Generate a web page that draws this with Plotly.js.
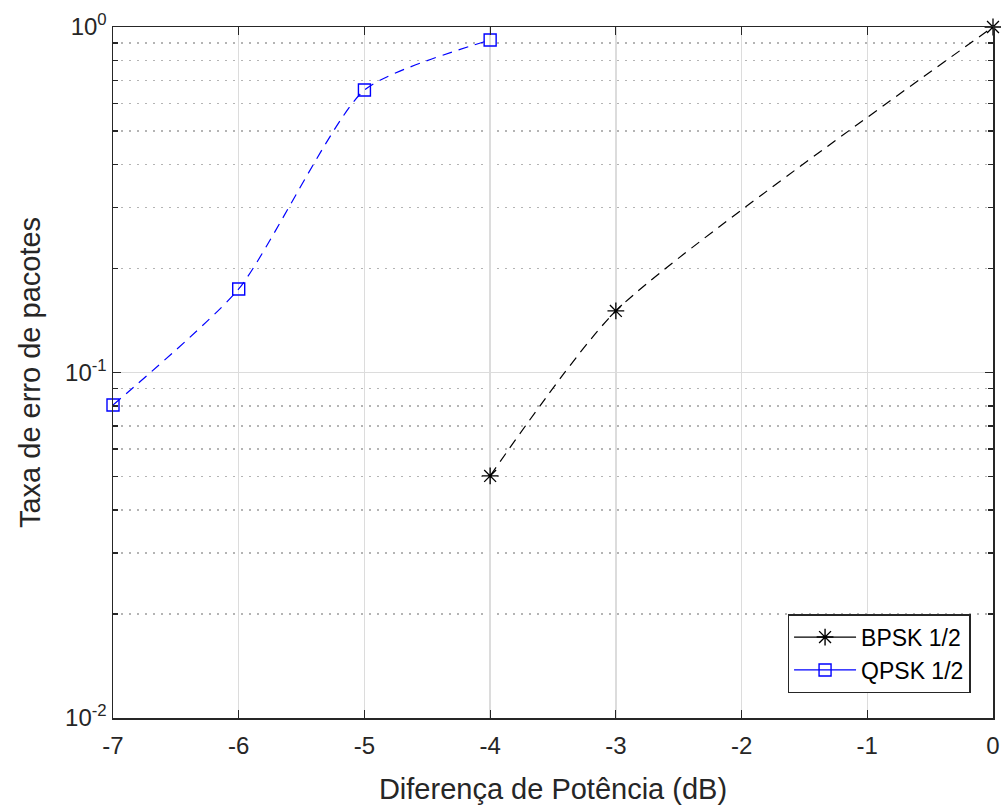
<!DOCTYPE html>
<html>
<head>
<meta charset="utf-8">
<script src="https://cdn.plot.ly/plotly-3.0.1.min.js"></script>
<style>html,body{margin:0;padding:0;background:#fff;}#plot{width:1001px;height:808px;}</style>
</head>
<body>
<div id="plot"></div>
<script>
const bpskX = [-4, -3, 0];
const bpskY = [0.0502, 0.1507, 1.0];
const qpskX = [-7, -6, -5, -4];
const qpskY = [0.0805, 0.1745, 0.657, 0.917];
const xTicks = [-7, -6, -5, -4, -3, -2, -1, 0];
const yTickVals = [0.01, 0.1, 1];
const yTickText = ['10<sup>-2</sup>', '10<sup>-1</sup>', '10<sup>0</sup>'];
const seriesNames = ['BPSK 1/2', 'QPSK 1/2'];
const seriesColors = ['#000000', '#0000ff'];
const seriesSymbols = ['asterisk-open', 'square-open'];

const traces = [
  {x: bpskX, y: bpskY, name: seriesNames[0], mode: 'lines+markers', type: 'scatter', showlegend: false,
   line: {color: seriesColors[0], width: 1.2, dash: '10px,7px', shape: 'spline', smoothing: 0.6},
   marker: {symbol: seriesSymbols[0], size: 14, color: seriesColors[0], line: {color: seriesColors[0], width: 1.3}},
   cliponaxis: false},
  {x: qpskX, y: qpskY, name: seriesNames[1], mode: 'lines+markers', type: 'scatter', showlegend: false,
   line: {color: seriesColors[1], width: 1.2, dash: '10px,7px', shape: 'spline', smoothing: 0.6},
   marker: {symbol: seriesSymbols[1], size: 12, color: seriesColors[1], line: {color: seriesColors[1], width: 1.4}},
   cliponaxis: false}
];
// legend-only entries (solid line samples, as in the reference legend)
seriesNames.forEach((n, i) => {
  traces.push({x: [null], y: [null], name: n, mode: 'lines+markers', type: 'scatter', showlegend: true,
    line: {color: seriesColors[i], width: 1.2},
    marker: {symbol: seriesSymbols[i], size: i === 0 ? 14 : 12, color: seriesColors[i],
             line: {color: seriesColors[i], width: 1.4}}});
});

const layout = {
  width: 1001, height: 808,
  margin: {l: 113, r: 8, t: 27, b: 90},
  paper_bgcolor: '#ffffff', plot_bgcolor: '#ffffff',
  font: {family: 'Liberation Sans, Arial, sans-serif', size: 23, color: '#262626'},
  showlegend: true,
  legend: {x: 0.9745, y: 0.036, xanchor: 'right', yanchor: 'bottom',
           bgcolor: '#ffffff', bordercolor: '#262626', borderwidth: 1.5,
           font: {size: 23, color: '#000000'}, itemwidth: 62, tracegroupgap: 0},
  xaxis: {
    range: [-7, 0], tickvals: xTicks, ticktext: xTicks.map(String),
    ticks: 'inside', ticklen: 8, tickcolor: '#262626', tickwidth: 1,
    showline: true, linecolor: '#262626', linewidth: 1.5, mirror: 'ticks',
    showgrid: true, gridcolor: '#dcdcdc', gridwidth: 1.3, zeroline: false,
    tickfont: {size: 24, color: '#262626'}, ticklabelstandoff: 6,
    title: {text: 'Diferença de Potência (dB)', font: {size: 29, color: '#262626'}, standoff: 20}
  },
  yaxis: {
    type: 'log', range: [-2, 0], tickvals: yTickVals, ticktext: yTickText,
    ticks: 'inside', ticklen: 8, tickcolor: '#262626', tickwidth: 1,
    showline: true, linecolor: '#262626', linewidth: 1.5, mirror: 'ticks',
    showgrid: true, gridcolor: '#dcdcdc', gridwidth: 1.3, zeroline: false,
    tickfont: {size: 24, color: '#262626'},
    minor: {dtick: 'D1', ticks: 'inside', ticklen: 5, tickcolor: '#262626', tickwidth: 1.5,
            showgrid: true, gridcolor: '#b4b4b4', griddash: '1.5px,6.5px', gridwidth: 1.5},
    title: {text: 'Taxa de erro de pacotes', font: {size: 29, color: '#262626'}, standoff: 16}
  }
};

Plotly.newPlot('plot', traces, layout, {displayModeBar: false, staticPlot: true});
</script>
</body>
</html>
